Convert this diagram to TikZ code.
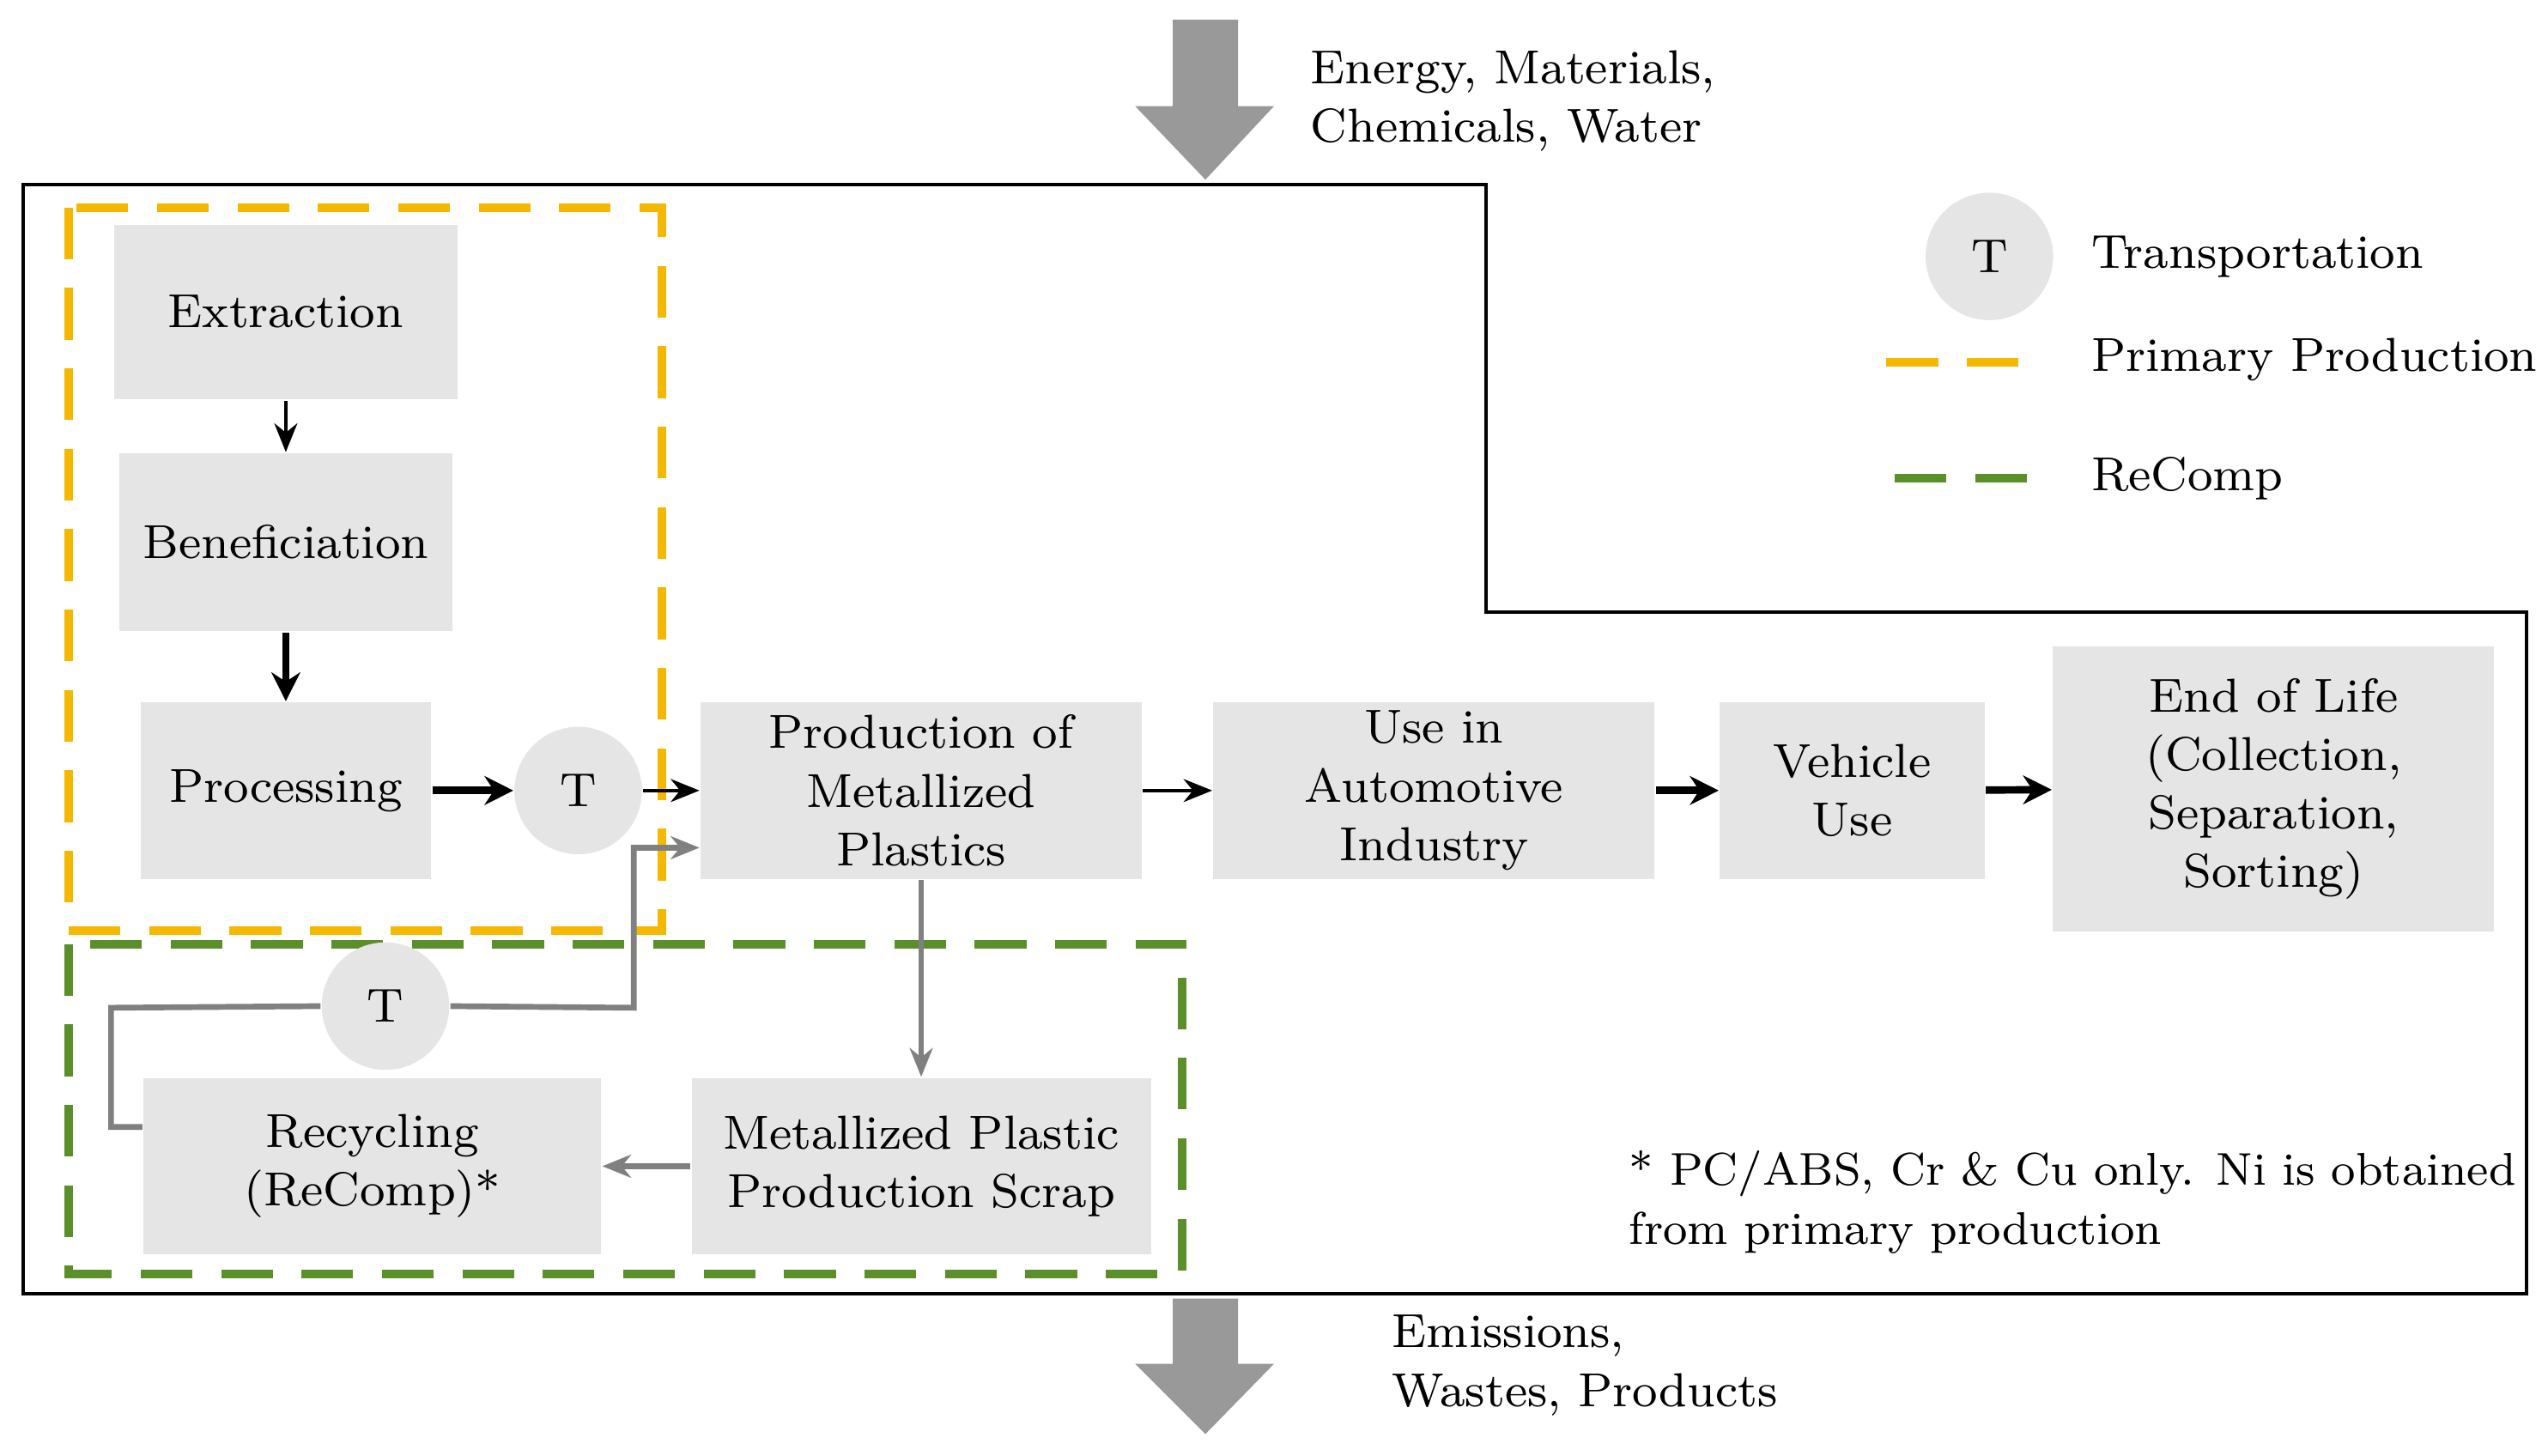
\documentclass[tikz,border=0pt]{standalone}
\usetikzlibrary{arrows.meta}
\begin{document}
\begin{tikzpicture}[x=0.01cm,y=-0.01cm,
 font=\fontsize{8.3}{10.2}\selectfont,
 box/.style={fill=black!10,draw=none,align=center,inner sep=0pt},
 tc/.style={circle,fill=black!10,minimum size=0.78cm,inner sep=0pt},
 blk/.style={-{Stealth[length=5pt,width=4pt]},line width=0.6pt},
 bblk/.style={-{Stealth[length=5pt,width=5pt]},line width=1.3pt},
 gry/.style={-{Stealth[length=5pt,width=4pt]},draw=black!50,line width=1pt},
 bigarr/.style={fill=black!40,draw=none}]
\useasboundingbox (0,0) rectangle (1560,891);
% big arrows
\fill[bigarr] (718,12)--(758,12)--(758,65)--(780,65)--(738,110)--(695,65)--(718,65)--cycle;
\fill[bigarr] (718,795)--(758,795)--(758,835)--(780,835)--(738,878)--(695,835)--(718,835)--cycle;
\node[anchor=west,align=left] (inp) at (790,62) {Energy, Materials,\\Chemicals, Water};
\node[anchor=west,align=left] (outp) at (840,836) {Emissions,\\Wastes, Products};
% boundary
\draw[line width=0.6pt] (14,113)--(910,113)--(910,375)--(1547,375)--(1547,792)--(14,792)--cycle;
% dashed regions
\draw[draw={rgb,255:red,245;green,184;blue,0},line width=1.5pt,dash pattern=on 9pt off 5pt] (42,127) rectangle (405,570);
\draw[draw={rgb,255:red,90;green,143;blue,41},line width=1.5pt,dash pattern=on 9pt off 5pt] (42,578) rectangle (724,780);
% boxes
\node[box,minimum width=2.1cm,minimum height=1.07cm] (ext) at (175,191) {Extraction};
\node[box,minimum width=2.04cm,minimum height=1.09cm] (ben) at (175,332) {Beneficiation};
\node[box,minimum width=1.78cm,minimum height=1.08cm] (pro) at (175,484) {Processing};
\node[tc] (t1) at (354,484) {T};
\node[box,minimum width=2.7cm,minimum height=1.08cm] (pmp) at (564,484) {Production of\\Metallized\\Plastics};
\node[box,minimum width=2.7cm,minimum height=1.08cm] (use) at (878,484) {Use in\\Automotive\\Industry};
\node[box,minimum width=1.62cm,minimum height=1.08cm] (veh) at (1134,484) {Vehicle\\Use};
\node[box,minimum width=2.7cm,minimum height=1.74cm] (eol) at (1392,483) {End of Life\\(Collection,\\Separation,\\Sorting)};
\node[tc] (t2) at (236,616) {T};
\node[box,minimum width=2.8cm,minimum height=1.08cm] (rec) at (228,714) {Recycling\\(ReComp)*};
\node[box,minimum width=2.81cm,minimum height=1.08cm] (scr) at (564,714) {Metallized Plastic\\Production Scrap};
% legend
\node[tc] (lt) at (1218,157) {T};
\node[anchor=west] (l1) at (1268,157) {Transportation};
\draw[draw={rgb,255:red,245;green,184;blue,0},line width=1.5pt,dash pattern=on 9pt off 5pt] (1155,222)--(1245,222);
\node[anchor=west] (l2) at (1268,220) {Primary Production};
\draw[draw={rgb,255:red,90;green,143;blue,41},line width=1.5pt,dash pattern=on 9pt off 5pt] (1160,293)--(1250,293);
\node[anchor=west] (l3) at (1268,293) {ReComp};
\node[anchor=west,align=left,font=\fontsize{8}{10.2}\selectfont] (fn) at (985,736) {* PC/ABS, Cr \& Cu only. Ni is obtained\\from primary production};
% arrows
\draw[blk] (ext)--(ben);
\draw[bblk] (ben)--(pro);
\draw[bblk] (pro)--(t1);
\draw[blk] (t1)--(pmp);
\draw[blk] (pmp)--(use);
\draw[bblk] (use)--(veh);
\draw[bblk] (veh)--(eol);
\draw[gry] (pmp)--(scr);
\draw[gry] (scr)--(rec);
\draw[draw=black!50,line width=1pt] (rec.west|-0,690)--(68,690)--(68,617)--(t2.west);
\draw[gry] (t2.east)--(388,617)--(388,519)--(pmp.west|-0,519);
\end{tikzpicture}
\end{document}
